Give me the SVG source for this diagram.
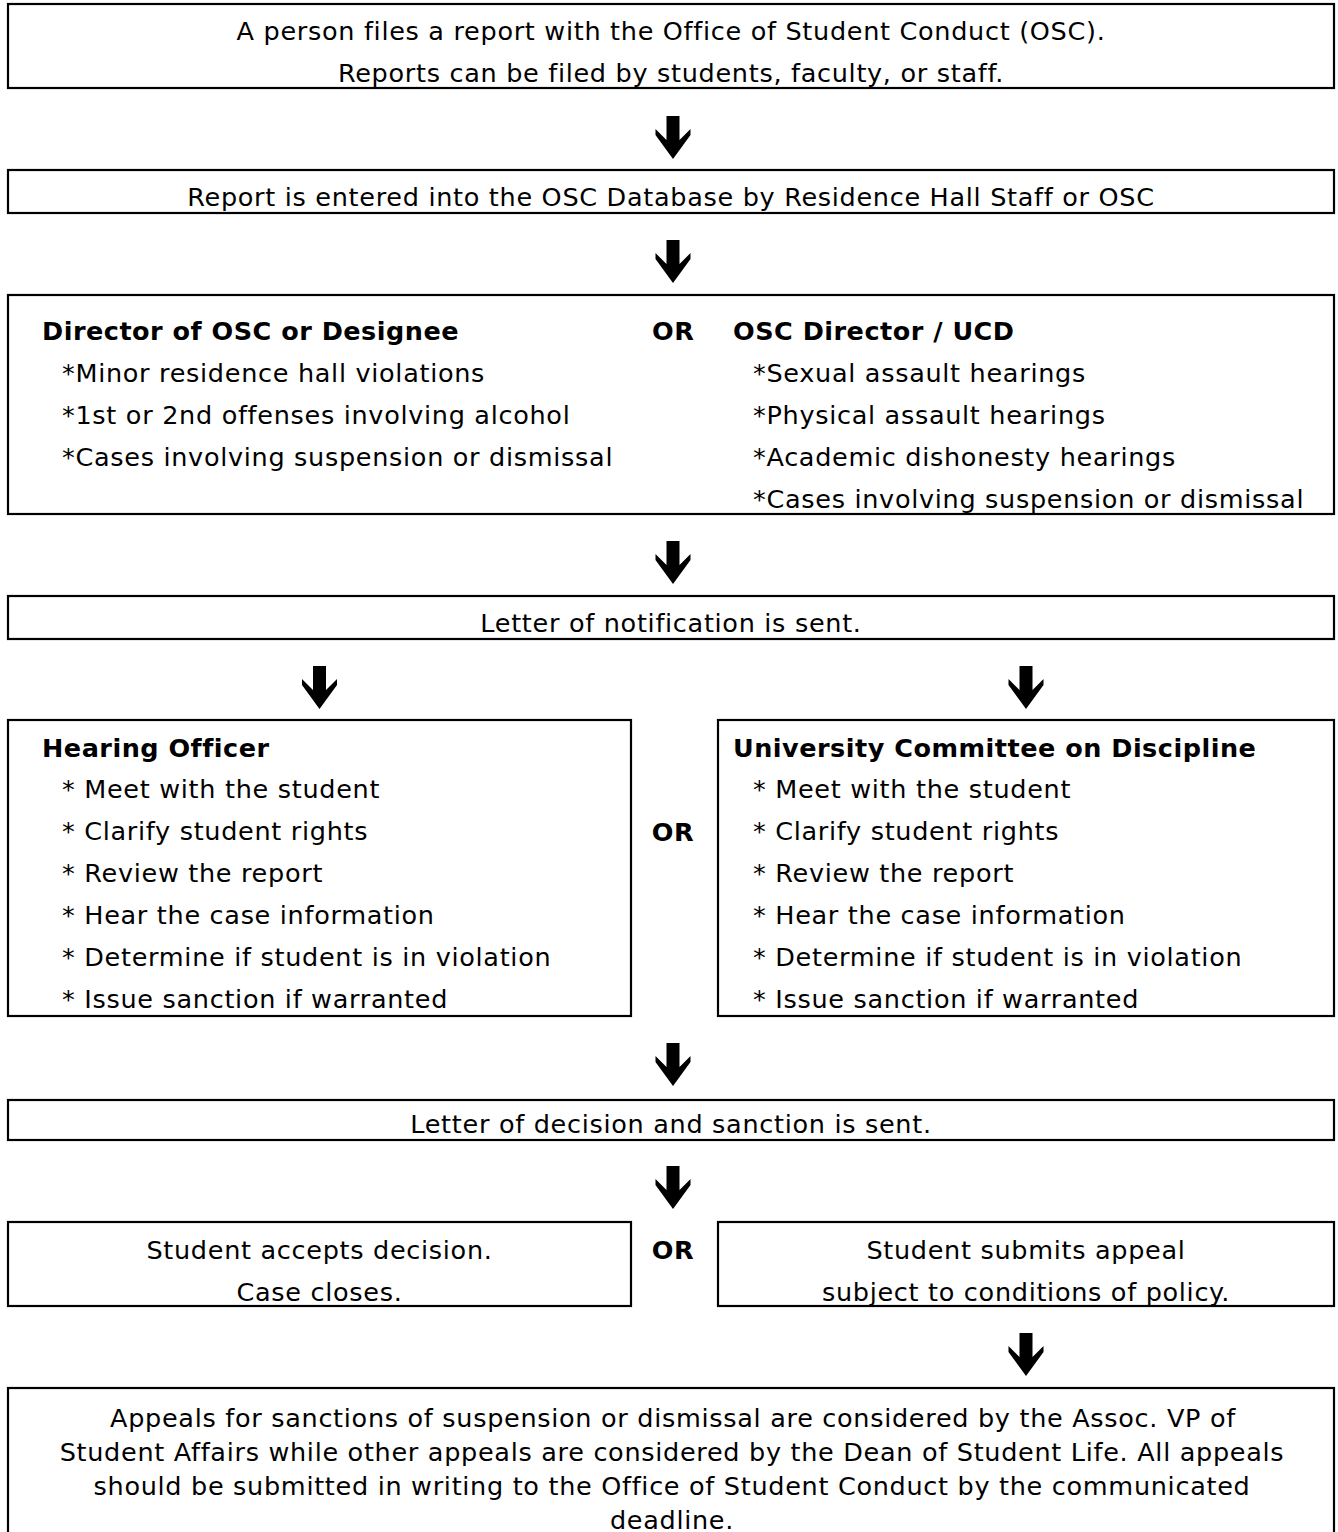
<svg xmlns="http://www.w3.org/2000/svg" width="1338" height="1532" viewBox="0 0 1338 1532">
<style>
.box{fill:#fff;stroke:#000;stroke-width:2.2}
.t{font-family:Verdana,"DejaVu Sans",sans-serif;font-size:25.5px;letter-spacing:0.7px;fill:#000}
.b{font-weight:bold;letter-spacing:0.5px}
.c{text-anchor:middle}
.arr{fill:#000}
</style>
<defs>
<path id="dn" d="M-6.5,0 L6.5,0 L6.5,24 L17.5,13 L17.5,19 L0,43 L-17.5,19 L-17.5,13 L-6.5,24 Z"/>
</defs>
<rect width="1338" height="1532" fill="#fff"/>
<g id="connectors" class="arr">
<use href="#dn" x="673" y="116"/>
<use href="#dn" x="673" y="240"/>
<use href="#dn" x="673" y="541"/>
<use href="#dn" x="319.5" y="666"/>
<use href="#dn" x="1026" y="666"/>
<use href="#dn" x="673" y="1043"/>
<use href="#dn" x="673" y="1166"/>
<use href="#dn" x="1026" y="1333"/>
</g>
<g id="n1">
<rect class="box" x="8" y="4" width="1326" height="84"/>
<text class="t c" x="671" y="40">A person files a report with the Office of Student Conduct (OSC).</text>
<text class="t c" x="671" y="82">Reports can be filed by students, faculty, or staff.</text>
</g>
<g id="n2">
<rect class="box" x="8" y="170" width="1326" height="43"/>
<text class="t c" x="671" y="206">Report is entered into the OSC Database by Residence Hall Staff or OSC</text>
</g>
<g id="n3">
<rect class="box" x="8" y="295" width="1326" height="219"/>
<text class="t b" x="42" y="340">Director of OSC or Designee</text>
<text class="t" x="62" y="382">*Minor residence hall violations</text>
<text class="t" x="62" y="424">*1st or 2nd offenses involving alcohol</text>
<text class="t" x="62" y="466">*Cases involving suspension or dismissal</text>
<text class="t b" x="652" y="340">OR</text>
<text class="t b" x="733" y="340">OSC Director / UCD</text>
<text class="t" x="753" y="382">*Sexual assault hearings</text>
<text class="t" x="753" y="424">*Physical assault hearings</text>
<text class="t" x="753" y="466">*Academic dishonesty hearings</text>
<text class="t" x="753" y="508">*Cases involving suspension or dismissal</text>
</g>
<g id="n4">
<rect class="box" x="8" y="596" width="1326" height="43"/>
<text class="t c" x="671" y="632">Letter of notification is sent.</text>
</g>
<g id="n5a">
<rect class="box" x="8" y="720" width="623" height="296"/>
<text class="t b" x="42" y="757">Hearing Officer</text>
<text class="t" x="62" y="798">* Meet with the student</text>
<text class="t" x="62" y="840">* Clarify student rights</text>
<text class="t" x="62" y="882">* Review the report</text>
<text class="t" x="62" y="924">* Hear the case information</text>
<text class="t" x="62" y="966">* Determine if student is in violation</text>
<text class="t" x="62" y="1008">* Issue sanction if warranted</text>
</g>
<g id="or5">
<text class="t b c" x="673" y="841">OR</text>
</g>
<g id="n5b">
<rect class="box" x="718" y="720" width="616" height="296"/>
<text class="t b" x="733" y="757">University Committee on Discipline</text>
<text class="t" x="753" y="798">* Meet with the student</text>
<text class="t" x="753" y="840">* Clarify student rights</text>
<text class="t" x="753" y="882">* Review the report</text>
<text class="t" x="753" y="924">* Hear the case information</text>
<text class="t" x="753" y="966">* Determine if student is in violation</text>
<text class="t" x="753" y="1008">* Issue sanction if warranted</text>
</g>
<g id="n6">
<rect class="box" x="8" y="1100" width="1326" height="40"/>
<text class="t c" x="671" y="1133">Letter of decision and sanction is sent.</text>
</g>
<g id="n7a">
<rect class="box" x="8" y="1222" width="623" height="84"/>
<text class="t c" x="319.5" y="1259">Student accepts decision.</text>
<text class="t c" x="319.5" y="1301">Case closes.</text>
</g>
<g id="or7">
<text class="t b c" x="673" y="1259">OR</text>
</g>
<g id="n7b">
<rect class="box" x="718" y="1222" width="616" height="84"/>
<text class="t c" x="1026" y="1259">Student submits appeal</text>
<text class="t c" x="1026" y="1301">subject to conditions of policy.</text>
</g>
<g id="n8">
<rect class="box" x="8" y="1388" width="1326" height="160"/>
<text class="t c" x="673" y="1427">Appeals for sanctions of suspension or dismissal are considered by the Assoc. VP of</text>
<text class="t c" x="672" y="1461">Student Affairs while other appeals are considered by the Dean of Student Life. All appeals</text>
<text class="t c" x="672" y="1495">should be submitted in writing to the Office of Student Conduct by the communicated</text>
<text class="t c" x="672" y="1529">deadline.</text>
</g>
</svg>
